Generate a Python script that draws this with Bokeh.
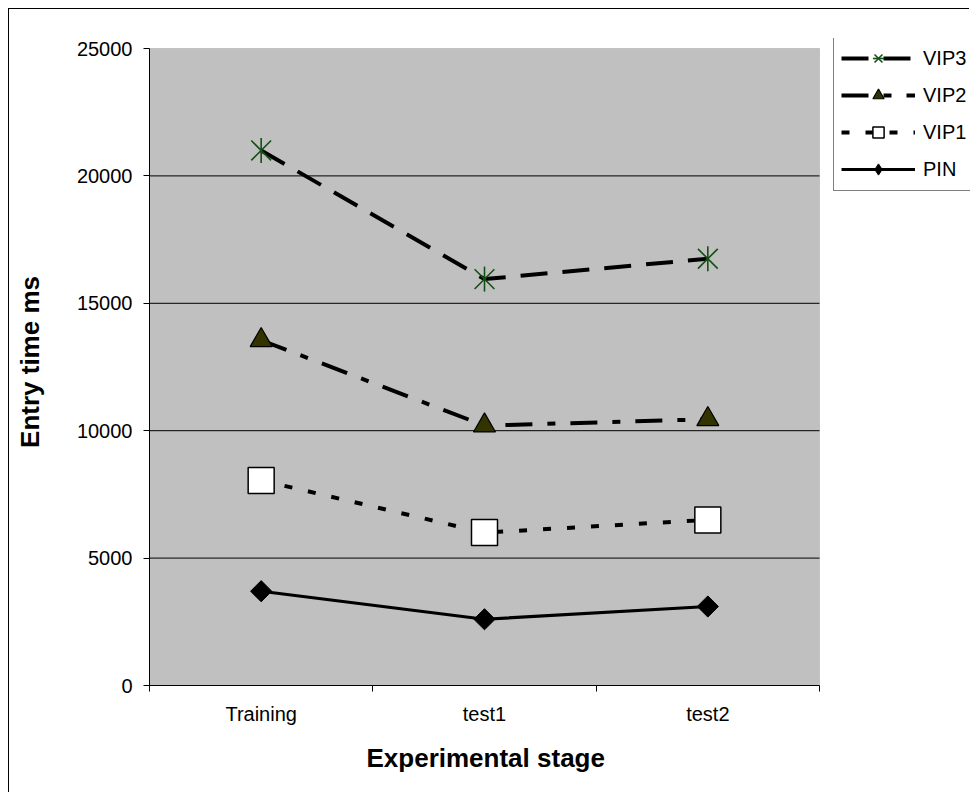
import math
from bokeh.plotting import figure
from bokeh.models import FixedTicker, Legend, LegendItem, BoxAnnotation, Title
from bokeh.embed import file_html
from bokeh.resources import INLINE

# ---- data ----
stages = ["Training", "test1", "test2"]
vip3 = [21000, 15950, 16750]
vip2 = [13550, 10200, 10450]
vip1 = [8050, 6000, 6500]
pin = [3700, 2600, 3100]
y_ticks = [0, 5000, 10000, 15000, 20000, 25000]
series_names = ["VIP3", "VIP2", "VIP1", "PIN"]
x_title = "Experimental stage"
y_title = "Entry time ms"

xs = list(range(len(stages)))
FONT = "Liberation Sans"

# canvas geometry (px)
W, H = 961, 784
ML = 140           # left of plot area
PW, PH = 670, 637  # plot-area size
PT = 39            # top of plot area
FT = 29            # top of frame (legend sticks out above the plot area)
FH = PT + PH - FT
FW = W - ML

x0, x1 = -0.5, len(stages) - 0.5
y0, y1 = y_ticks[0], y_ticks[-1]
x_end = x0 + (x1 - x0) * FW / PW
y_end = y0 + (y1 - y0) * FH / PH

p = figure(width=W, height=H,
           x_range=(x0, x_end), y_range=(y0, y_end),
           output_backend="svg", toolbar_location=None,
           min_border_left=ML, min_border_right=0,
           min_border_top=FT, min_border_bottom=H - FT - FH)
p.styles = {"margin-left": "8px", "margin-top": "8px",
            "border-left": "1px solid #000000", "border-top": "1px solid #000000"}

p.background_fill_color = "white"
p.border_fill_color = "white"
p.outline_line_color = None

# grey plot area with grey border
p.add_layout(BoxAnnotation(left=x0, right=x1, bottom=y0, top=y1,
                           fill_color="#C0C0C0", fill_alpha=1,
                           line_color="#808080", line_width=1, level="underlay"))

# x axis: labels at category centres, tick marks between categories
p.xaxis.bounds = (x0, x1)
p.xaxis.ticker = FixedTicker(ticks=xs, minor_ticks=[x - 0.5 for x in xs] + [xs[-1] + 0.5])
p.xaxis.major_label_overrides = {x: s for x, s in zip(xs, stages)}
p.xaxis.major_tick_out = 0
p.xaxis.major_tick_in = 0
p.xaxis.minor_tick_out = 6
p.xaxis.minor_tick_in = 0
p.xaxis.minor_tick_line_color = "black"
p.xaxis.major_label_standoff = 11

# y axis
p.yaxis.bounds = (y0, y1)
p.yaxis.ticker = FixedTicker(ticks=y_ticks)
p.yaxis.major_tick_out = 6
p.yaxis.major_tick_in = 0
p.yaxis.minor_tick_line_color = None
p.yaxis.major_label_standoff = 11
p.yaxis.axis_label = y_title
p.yaxis.axis_label_standoff = 29
p.yaxis.axis_label_text_font = FONT
p.yaxis.axis_label_text_font_size = "26px"
p.yaxis.axis_label_text_font_style = "bold"
p.yaxis.axis_label_text_color = "black"

for ax in (p.xaxis[0], p.yaxis[0]):
    ax.axis_line_color = "black"
    ax.axis_line_width = 1
    ax.major_tick_line_color = "black"
    ax.major_label_text_font = FONT
    ax.major_label_text_font_size = "20px"
    ax.major_label_text_color = "black"

# x-axis title, positioned relative to the plot area (not the wider frame)
p.add_layout(Title(text=x_title, align="left", offset=217, standoff=27,
                   text_font=FONT, text_font_size="26px", text_font_style="bold",
                   text_color="black"), "below")

p.xgrid.visible = False
p.ygrid.visible = False

# horizontal gridlines limited to the plot area
grid_vals = y_ticks[1:-1]
p.segment(x0=[x0] * len(grid_vals), x1=[x1] * len(grid_vals), y0=grid_vals, y1=grid_vals,
          line_color="black", line_width=1)

# ---- series ----
# VIP3
l3 = p.line(xs, vip3, line_color="black", line_width=4, line_dash="27 15")
m3a = p.scatter(xs, vip3, marker="x", size=28, line_color="#145014", line_width=1.6)
m3b = p.scatter(xs, vip3, marker="dash", angle=math.pi / 2, size=25,
                line_color="#145014", line_width=1.6)

# VIP2
l2 = p.line(xs, vip2, line_color="black", line_width=4, line_dash="27 15 8 15")
m2 = p.scatter(xs, vip2, marker="triangle", size=22, fill_color="#333300",
               line_color="black", line_width=1.2)

# VIP1
l1 = p.line(xs, vip1, line_color="black", line_width=4, line_dash="8 16")
m1 = p.scatter(xs, vip1, marker="square", size=26, fill_color="white",
               line_color="black", line_width=1.5)

# PIN
l0 = p.line(xs, pin, line_color="black", line_width=3.2)
m0 = p.scatter(xs, pin, marker="square", angle=math.pi / 4, size=15,
               fill_color="black", line_color="black", line_width=1)
m0_leg = p.scatter(xs, pin, marker="diamond", size=0, fill_color="black",
                   line_color="black", line_width=1)

# legend: left edge 684 px right of frame left, bottom edge 494 px above frame bottom
legend = Legend(items=[
    LegendItem(label=series_names[0], renderers=[l3, m3a, m3b]),
    LegendItem(label=series_names[1], renderers=[l2, m2]),
    LegendItem(label=series_names[2], renderers=[l1, m1]),
    LegendItem(label=series_names[3], renderers=[l0, m0_leg]),
], location=(684, 494))
legend.border_line_color = "black"
legend.border_line_width = 1
legend.background_fill_color = "white"
legend.background_fill_alpha = 1
legend.padding = 7
legend.spacing = 9
legend.margin = 0
legend.glyph_width = 74
legend.glyph_height = 28
legend.label_height = 28
legend.label_standoff = 8
legend.label_text_font = FONT
legend.label_text_font_size = "20px"
legend.label_text_color = "black"
p.add_layout(legend)

open("out.html", "w").write(file_html(p, INLINE))
